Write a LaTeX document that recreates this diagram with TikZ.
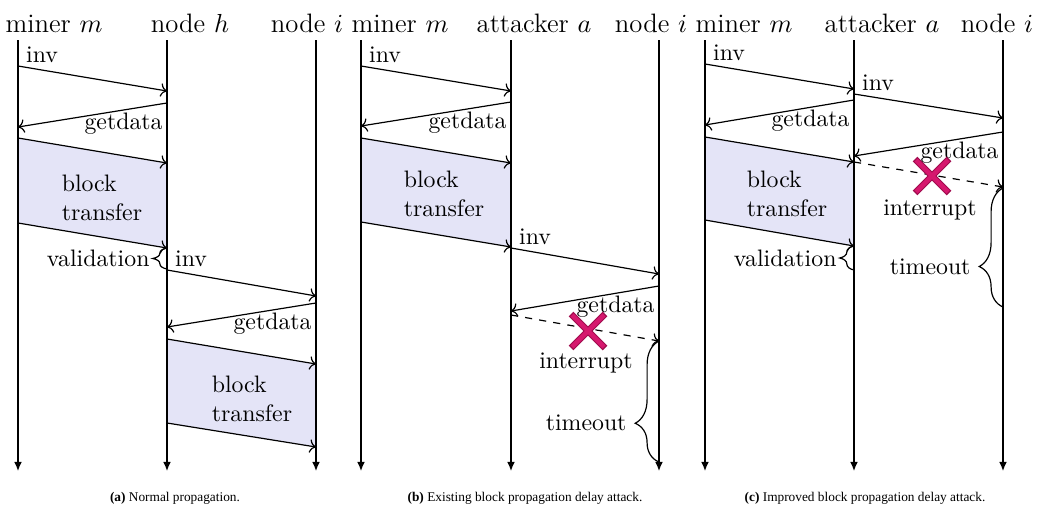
\documentclass[tikz,border=0pt]{standalone}
\usepackage{fontspec}
\newfontfamily\capfont{Liberation Serif}
\usetikzlibrary{arrows.meta,decorations.pathreplacing,calc}
\definecolor{lavender}{RGB}{228,228,247}
\definecolor{crossred}{RGB}{214,24,110}
\definecolor{crossdark}{RGB}{160,12,78}
\tikzset{
  life/.style={line width=0.5pt,-{Latex[length=3.8pt,width=3.2pt]}},
  msg/.style={line width=0.5pt,->},
  lost/.style={msg,dashed},
  head/.style={font=\fontsize{11.2}{14}\selectfont,anchor=base},
  lbl/.style={inner sep=0pt},
  snd/.style={lbl,anchor=base west,xshift=3.2pt,yshift=1.3pt},
  rcv/.style={lbl,anchor=base east,xshift=-1.6pt,yshift=-11.3pt},
  transfer/.style={fill=lavender},
  payload/.style={align=left,inner sep=0pt},
  span/.style={decorate,decoration={brace,amplitude=#1},line width=0.5pt},
  span/.default=10pt,
  note/.style={inner sep=0pt,anchor=east},
  caption/.style={font={\capfont\fontsize{5.6}{7}\selectfont},anchor=base},
  % pictogram
  pics/cut/.style={code={
    \draw[crossdark,line width=2.8pt] (-17,-17) -- (17,17) (-17,17) -- (17,-17);
    \draw[crossred,line width=1.8pt] (-16,-16) -- (16,16) (-16,16) -- (16,-16);
  }},
}

\begin{document}
\begin{tikzpicture}[x=0.42pt,y=-0.42pt]
  \useasboundingbox (0,0) rectangle (1040,509);
  % headers
  \node[head] (hdmA) at (54,32) {miner $m$};
  \node[head] (hdhA) at (190,32) {node $h$};
  \node[head] (hdiA) at (307,32) {node $i$};
  \node[head] (hdmB) at (400,32) {miner $m$};
  \node[head] (hdaB) at (534,32) {attacker $a$};
  \node[head] (hdiB) at (651,32) {node $i$};
  \node[head] (hdmC) at (744,32) {miner $m$};
  \node[head] (hdaC) at (882,32) {attacker $a$};
  \node[head] (hdiC) at (997,32) {node $i$};
  % lifeline tops and ends
  \foreach \n/\x in {mA/18,hA/167,iA/316,mB/361,aB/511,iB/659,mC/705,aC/854,iC/1003}{
    \coordinate (\n) at (\x,40);
    \coordinate (\n end) at (\x,471);
  }
  % block transfers
  \fill[transfer] (mA |- 0,138) -- (hA |- 0,163) -- (hA |- 0,248) -- (mA |- 0,223) -- cycle;
  \fill[transfer] (hA |- 0,339) -- (iA |- 0,364) -- (iA |- 0,447) -- (hA |- 0,423) -- cycle;
  \fill[transfer] (mB |- 0,138) -- (aB |- 0,163) -- (aB |- 0,247) -- (mB |- 0,222) -- cycle;
  \fill[transfer] (mC |- 0,137) -- (aC |- 0,162) -- (aC |- 0,246) -- (mC |- 0,220) -- cycle;
  % lifelines
  \foreach \n in {mA,hA,iA,mB,aB,iB,mC,aC,iC}
    \draw[life] (\n) -- (\n end);
  % (a) normal propagation
  \draw[msg] (mA |- 0,66) -- node[snd,pos=0]{inv} (hA |- 0,91);
  \draw[msg] (hA |- 0,103) -- node[rcv,pos=0]{getdata} (mA |- 0,127);
  \draw[msg] (mA |- 0,138) -- (hA |- 0,163);
  \draw[msg] (mA |- 0,223) -- (hA |- 0,248);
  \node[payload] (blkA) at (102,198) {block\\transfer};
  \draw[span=6pt] (hA |- 0,269) -- node[note,xshift=-7.1pt]{validation} (hA |- 0,248);
  \draw[msg] (hA |- 0,270) -- node[snd,pos=0]{inv} (iA |- 0,296);
  \draw[msg] (iA |- 0,303) -- node[rcv,pos=0]{getdata} (hA |- 0,327);
  \draw[msg] (hA |- 0,339) -- (iA |- 0,364);
  \draw[msg] (hA |- 0,423) -- (iA |- 0,447);
  \node[payload] (blkA2) at (252,399) {block\\transfer};
  % (b) existing attack
  \draw[msg] (mB |- 0,66) -- node[snd,pos=0]{inv} (aB |- 0,91);
  \draw[msg] (aB |- 0,102) -- node[rcv,pos=0]{getdata} (mB |- 0,126);
  \draw[msg] (mB |- 0,138) -- (aB |- 0,163);
  \draw[msg] (mB |- 0,222) -- (aB |- 0,247);
  \node[payload] (blkB) at (444,194) {block\\transfer};
  \draw[msg] (aB |- 0,248) -- node[snd,pos=0]{inv} (iB |- 0,274);
  \draw[msg] (iB |- 0,286) -- node[rcv,pos=0]{getdata} (aB |- 0,311);
  \draw[lost] (aB |- 0,315) -- (iB |- 0,341);
  \node (intB) at (586,363) {interrupt};
  \draw[span=10pt,decoration={aspect=0.32}] (iB |- 0,462) -- node[note,pos=0.32,xshift=-13.4pt]{timeout} (iB |- 0,341);
  % (c) improved attack
  \draw[msg] (mC |- 0,64) -- node[snd,pos=0]{inv} (aC |- 0,89);
  \draw[msg] (aC |- 0,94) -- node[snd,pos=0]{inv} (iC |- 0,118);
  \draw[msg] (aC |- 0,100) -- node[rcv,pos=0]{getdata} (mC |- 0,125);
  \draw[msg] (iC |- 0,132) -- node[rcv,pos=0]{getdata} (aC |- 0,156);
  \draw[lost] (aC |- 0,162) -- (iC |- 0,187);
  \draw[msg] (mC |- 0,137) -- (aC |- 0,162);
  \draw[msg] (mC |- 0,220) -- (aC |- 0,246);
  \node[payload] (blkC) at (787,194) {block\\transfer};
  \node (intC) at (930,210) {interrupt};
  \draw[span=6pt] (aC |- 0,270) -- node[note,xshift=-7.1pt]{validation} (aC |- 0,246);
  \draw[span=10pt,decoration={aspect=0.34}] (iC |- 0,307) -- node[note,pos=0.34,xshift=-13.4pt]{timeout} (iC |- 0,188);
  % interrupted requests
  \pic at (588,331) {cut};
  \pic at (932,176) {cut};
  % captions
  \node[caption] (capA) at (175,501) {\textbf{(a)} Normal propagation.};
  \node[caption] (capB) at (525,501) {\textbf{(b)} Existing block propagation delay attack.};
  \node[caption] (capC) at (865,501) {\textbf{(c)} Improved block propagation delay attack.};
\end{tikzpicture}
\end{document}
